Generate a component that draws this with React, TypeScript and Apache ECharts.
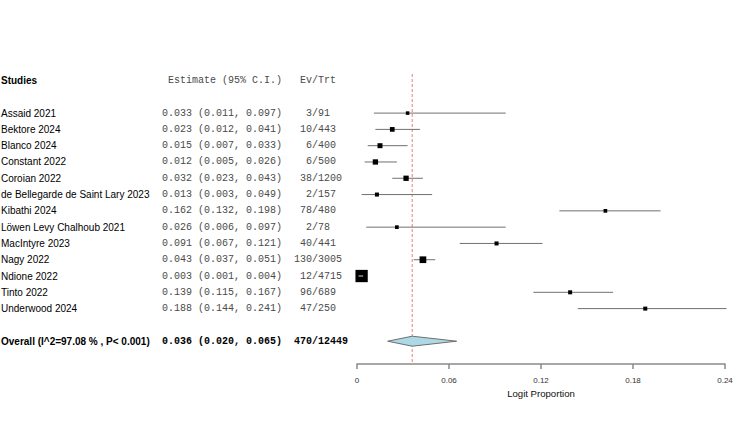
import React, { useEffect, useRef } from "react";
import * as echarts from "echarts";

// Study-level results (proportion with 95% CI, events / total)
const studies = [
  "Assaid 2021",
  "Bektore 2024",
  "Blanco 2024",
  "Constant 2022",
  "Coroian 2022",
  "de Bellegarde de Saint Lary 2023",
  "Kibathi 2024",
  "Löwen Levy Chalhoub 2021",
  "MacIntyre 2023",
  "Nagy 2022",
  "Ndione 2022",
  "Tinto 2022",
  "Underwood 2024",
];
const estimates = [0.033, 0.023, 0.015, 0.012, 0.032, 0.013, 0.162, 0.026, 0.091, 0.043, 0.003, 0.139, 0.188];
const lowerCI = [0.011, 0.012, 0.007, 0.005, 0.023, 0.003, 0.132, 0.006, 0.067, 0.037, 0.001, 0.115, 0.144];
const upperCI = [0.097, 0.041, 0.033, 0.026, 0.043, 0.049, 0.198, 0.097, 0.121, 0.051, 0.004, 0.167, 0.241];
const events = [3, 10, 6, 6, 38, 2, 78, 2, 40, 130, 12, 96, 47];
const totals = [91, 443, 400, 500, 1200, 157, 480, 78, 441, 3005, 4715, 689, 250];
// Relative study weights (%), used for the box areas
const weights = [3.3, 5.9, 6.6, 7.5, 7.5, 4.3, 3.6, 3.6, 4.3, 11.9, 40.2, 4.3, 4.3];

// Pooled result
const overallEstimate = 0.036;
const overallLower = 0.02;
const overallUpper = 0.065;
const overallEvents = 470;
const overallTotal = 12449;
const overallI2 = "97.08";
const overallP = "P< 0.001";

const xTicks = [0, 0.06, 0.12, 0.18, 0.24];

// Layout
const SANS = "'Liberation Sans', Arial, sans-serif";
const MONO = "'Liberation Mono', 'Courier New', monospace";
const CHAR_W = 6; // advance of the 10px monospace font
const NAME_X = 1;
const EST_CENTER = 222;
const EVT_CENTER = 318;
const Y_MIN = -2.4;
const Y_MAX = 15.4;
const HEADER_ROW = -2;
const OVERALL_ROW = studies.length + 1;
const BOX_SCALE = 1.94;

// Monospace text centred on a column with character snapping
const monoLeft = (center: number, text: string) => center - Math.floor(text.length / 2) * CHAR_W;

const fmt = (v: number) => v.toFixed(3);

type TableRow = { row: number; name: string; est: string; evt: string; bold: boolean; header?: boolean };

const tableRows: TableRow[] = [
  { row: HEADER_ROW, name: "Studies", est: "Estimate (95% C.I.)", evt: "Ev/Trt", bold: true, header: true },
  ...studies.map((name, i) => ({
    row: i,
    name,
    est: `${fmt(estimates[i])} (${fmt(lowerCI[i])}, ${fmt(upperCI[i])})`,
    evt: `${events[i]}/${totals[i]}`,
    bold: false,
  })),
  {
    row: OVERALL_ROW,
    name: `Overall (I^2=${overallI2} % , ${overallP})`,
    est: `${fmt(overallEstimate)} (${fmt(overallLower)}, ${fmt(overallUpper)})`,
    evt: `${overallEvents}/${overallTotal}`,
    bold: true,
  },
];

export default function App() {
  const ref = useRef<HTMLDivElement>(null);

  useEffect(() => {
    if (!ref.current) return;
    const chart = echarts.init(ref.current, undefined, { renderer: "svg" });

    const option: any = {
      animation: false,
      backgroundColor: "#ffffff",
      grid: { left: 357, right: 29, top: 74, bottom: 74, containLabel: false },
      xAxis: {
        type: "value",
        min: xTicks[0],
        max: xTicks[xTicks.length - 1],
        interval: xTicks[1] - xTicks[0],
        splitLine: { show: false },
        axisLine: { show: true, onZero: false, lineStyle: { color: "#8a8a8a", width: 1.5 } },
        axisTick: { show: true, length: 5, lineStyle: { color: "#8a8a8a", width: 1.5 } },
        axisLabel: {
          fontSize: 8,
          fontFamily: SANS,
          color: "#333",
          margin: 12,
          formatter: (v: number) => String(Number(v.toFixed(2))),
        },
        name: "Logit Proportion",
        nameLocation: "middle",
        nameGap: 22,
        nameTextStyle: { fontSize: 9.6, fontFamily: SANS, color: "#111" },
      },
      yAxis: { type: "value", inverse: true, min: Y_MIN, max: Y_MAX, show: false },
      series: [
        {
          // dashed line at the pooled estimate
          type: "custom",
          data: [[overallEstimate]],
          silent: true,
          z: 1,
          renderItem: (_p: any, api: any) => {
            const top = api.coord([api.value(0), Y_MIN]);
            const bottom = api.coord([api.value(0), Y_MAX]);
            return {
              type: "line",
              shape: { x1: top[0], y1: top[1], x2: bottom[0], y2: bottom[1] },
              style: { stroke: "#ea7f7f", lineWidth: 1, lineDash: [3, 2] },
            };
          },
        },
        {
          // study confidence intervals and weighted boxes
          type: "custom",
          data: studies.map((_, i) => [i, estimates[i], lowerCI[i], upperCI[i], weights[i]]),
          encode: { x: 1, y: 0 },
          silent: true,
          z: 2,
          renderItem: (_p: any, api: any) => {
            const row = api.value(0);
            const c = api.coord([api.value(1), row]);
            const l = api.coord([api.value(2), row]);
            const h = api.coord([api.value(3), row]);
            const side = BOX_SCALE * Math.sqrt(api.value(4));
            const inside = l[0] >= c[0] - side / 2 && h[0] <= c[0] + side / 2;
            const ci = {
              type: "line",
              shape: { x1: l[0], y1: c[1], x2: h[0], y2: c[1] },
              style: { stroke: inside ? "#d8d8d8" : "#707070", lineWidth: 1 },
            };
            const box = {
              type: "rect",
              shape: { x: c[0] - side / 2, y: c[1] - side / 2, width: side, height: side },
              style: { fill: "#000" },
            };
            return { type: "group", children: inside ? [box, ci] : [ci, box] };
          },
        },
        {
          // pooled estimate diamond
          type: "custom",
          data: [[OVERALL_ROW, overallEstimate, overallLower, overallUpper]],
          encode: { x: 1, y: 0 },
          silent: true,
          z: 3,
          renderItem: (_p: any, api: any) => {
            const row = api.value(0);
            const c = api.coord([api.value(1), row]);
            const l = api.coord([api.value(2), row]);
            const h = api.coord([api.value(3), row]);
            return {
              type: "polygon",
              shape: {
                points: [
                  [l[0], c[1]],
                  [c[0], c[1] - 5],
                  [h[0], c[1]],
                  [c[0], c[1] + 5],
                ],
              },
              style: { fill: "#add8e6", stroke: "#6f6f6f", lineWidth: 1 },
            };
          },
        },
        {
          // table columns: study, estimate (95% CI), events / total
          type: "custom",
          data: tableRows.map((r) => [0, r.row]),
          silent: true,
          clip: false,
          z: 4,
          renderItem: (p: any, api: any) => {
            const r = tableRows[p.dataIndex];
            const y = api.coord([0, api.value(1)])[1];
            const monoColor = r.bold && !r.header ? "#000" : "#4a4a4a";
            const monoWeight = r.bold && !r.header ? "bold" : "normal";
            return {
              type: "group",
              children: [
                {
                  type: "text",
                  x: NAME_X,
                  y,
                  style: {
                    text: r.name,
                    fill: "#000",
                    fontFamily: SANS,
                    fontSize: 10,
                    fontWeight: r.bold ? "bold" : "normal",
                    align: "left",
                    verticalAlign: "middle",
                  },
                },
                {
                  type: "text",
                  x: monoLeft(EST_CENTER, r.est),
                  y,
                  style: {
                    text: r.est,
                    fill: monoColor,
                    fontFamily: MONO,
                    fontSize: 10,
                    fontWeight: monoWeight,
                    align: "left",
                    verticalAlign: "middle",
                  },
                },
                {
                  type: "text",
                  x: monoLeft(EVT_CENTER, r.evt),
                  y,
                  style: {
                    text: r.evt,
                    fill: monoColor,
                    fontFamily: MONO,
                    fontSize: 10,
                    fontWeight: monoWeight,
                    align: "left",
                    verticalAlign: "middle",
                  },
                },
              ],
            };
          },
        },
      ],
    };

    chart.setOption(option);
    return () => chart.dispose();
  }, []);

  return (
    <div
      ref={ref}
      style={{ position: "absolute", left: 0, top: 0, width: 754, height: 438, background: "#fff" }}
    />
  );
}
